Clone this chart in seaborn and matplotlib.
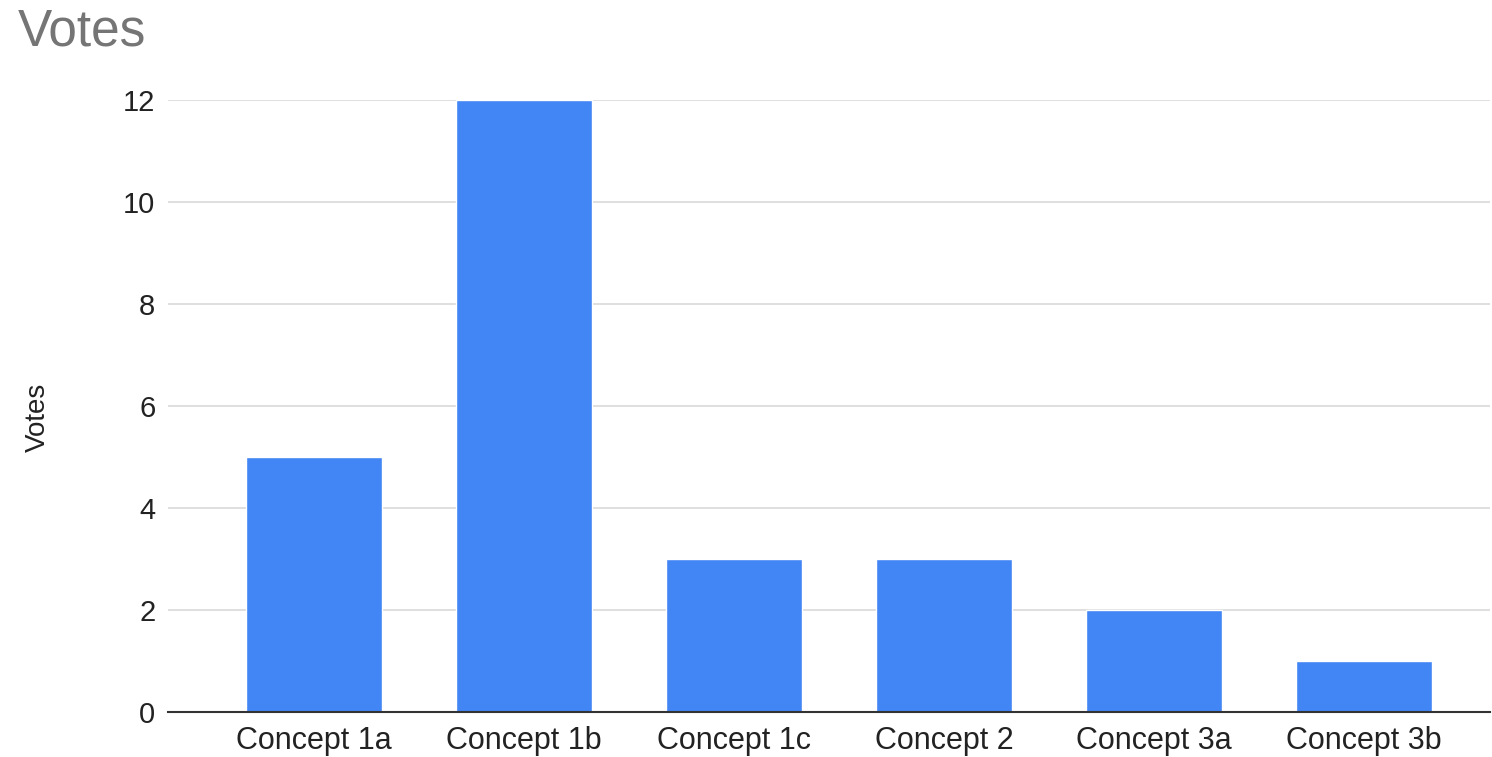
import matplotlib
matplotlib.use("Agg")
import matplotlib.pyplot as plt
import seaborn as sns

# données
concepts = ["Concept 1a", "Concept 1b", "Concept 1c", "Concept 2", "Concept 3a", "Concept 3b"]
votes = [5, 12, 3, 3, 2, 1]
yticks = [0, 2, 4, 6, 8, 10, 12]

sns.set_style("white")
plt.rcParams['font.family'] = ['Liberation Sans', 'DejaVu Sans']

fig = plt.figure(figsize=(14.92, 7.57), dpi=100)
ax = fig.add_axes([0.1126, 0.0594, 0.886, 0.8085])

sns.barplot(x=concepts, y=votes, color="#4285F4", width=0.65, saturation=1, ax=ax)

ax.set_ylim(0, 12)
ax.set_xlim(-0.695, 5.6)
ax.set_yticks(yticks)
ax.grid(axis='y', color="#d9d9d9", linewidth=1.2)
ax.set_axisbelow(True)
for s in ["top", "right", "left"]:
    ax.spines[s].set_visible(False)
ax.spines["bottom"].set_color("#333333")
ax.spines["bottom"].set_linewidth(1.5)
ax.tick_params(axis='y', length=0, pad=9, labelsize=21, labelcolor="#222222")
ax.tick_params(axis='x', length=0, pad=10, labelsize=22, labelcolor="#222222")
ax.set_xlabel("")
ax.set_ylabel("")

# titre de l'axe y et titre du graphique
fig.text(38 / 1492, 0.448, "Votes", fontsize=20, color="#222222",
         rotation=90, ha="center", va="center")
fig.text(0.012, 1 - 45 / 757, "Votes", fontsize=37, color="#757575",
         ha="left", va="baseline")

plt.savefig("out.png", dpi=100)
